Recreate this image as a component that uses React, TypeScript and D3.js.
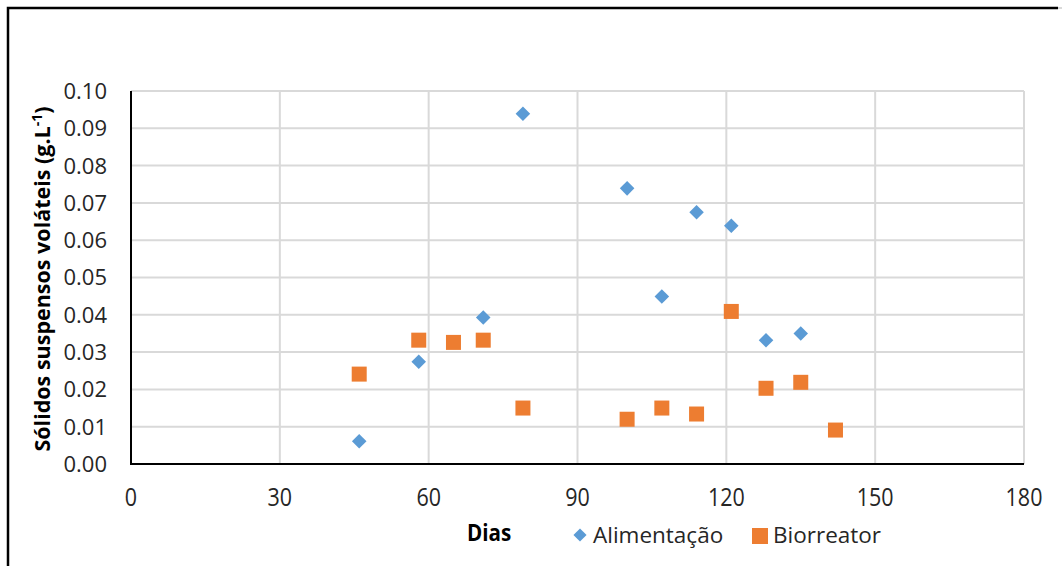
import React, { useRef, useEffect } from 'react';
import * as d3 from 'd3';

// Days and values
const alimDays = [46, 58, 71, 79, 100, 107, 114, 121, 128, 135];
const alimValues = [0.0061, 0.0274, 0.0393, 0.0939, 0.0739, 0.0449, 0.0675, 0.0639, 0.0332, 0.035];
const bioDays = [46, 58, 65, 71, 79, 100, 107, 114, 121, 128, 135, 142];
const bioValues = [0.0241, 0.0332, 0.0326, 0.0332, 0.015, 0.012, 0.015, 0.0134, 0.0409, 0.0203, 0.0219, 0.0091];
const xTicks = [0, 30, 60, 90, 120, 150, 180];
const yTicks = [0, 0.01, 0.02, 0.03, 0.04, 0.05, 0.06, 0.07, 0.08, 0.09, 0.1];

const FONT = '"Open Sans", "Noto Sans", sans-serif';

const App = () => {
  const ref = useRef<SVGSVGElement>(null);

  useEffect(() => {
    if (!ref.current) return;
    const svg = d3.select(ref.current);
    svg.selectAll('*').remove();

    const left = 131, right = 1024, top = 91, bottom = 464;
    const x = d3.scaleLinear().domain([0, 180]).range([left, right]);
    const y = d3.scaleLinear().domain([0, 0.1]).range([bottom, top]);

    // outer frame (left + top edges visible)
    svg.append('path')
      .attr('d', 'M8,570 L8,8 L1058,8')
      .attr('fill', 'none')
      .attr('stroke', '#000')
      .attr('stroke-width', 2.5);
    svg.append('line')
      .attr('x1', 1058).attr('x2', 1062).attr('y1', 8).attr('y2', 8)
      .attr('stroke', '#d9d9d9').attr('stroke-width', 2);

    // gridlines
    const grid = svg.append('g');
    grid.selectAll('line.h')
      .data(yTicks.slice(1))
      .enter().append('line')
      .attr('x1', left).attr('x2', right)
      .attr('y1', d => y(d)).attr('y2', d => y(d))
      .attr('stroke', '#d9d9d9').attr('stroke-width', 2);
    grid.selectAll('line.v')
      .data(xTicks.slice(1))
      .enter().append('line')
      .attr('x1', d => x(d)).attr('x2', d => x(d))
      .attr('y1', top).attr('y2', bottom)
      .attr('stroke', '#d9d9d9').attr('stroke-width', 2);

    // axes lines
    svg.append('line')
      .attr('x1', left).attr('x2', left).attr('y1', top).attr('y2', bottom + 1)
      .attr('stroke', '#000').attr('stroke-width', 2);
    svg.append('line')
      .attr('x1', left).attr('x2', right).attr('y1', bottom).attr('y2', bottom)
      .attr('stroke', '#000').attr('stroke-width', 2);

    // y tick labels
    svg.append('g').selectAll('text')
      .data(yTicks)
      .enter().append('text')
      .attr('x', 107)
      .attr('y', d => y(d))
      .attr('dy', '0.36em')
      .attr('text-anchor', 'end')
      .attr('font-family', FONT)
      .attr('font-size', 22)
      .attr('fill', '#262626')
      .text(d => d.toFixed(2));

    // x tick labels
    svg.append('g').selectAll('text')
      .data(xTicks)
      .enter().append('text')
      .attr('transform', d => `translate(${x(d)},506) scale(0.86,1)`)
      .attr('text-anchor', 'middle')
      .attr('font-family', FONT)
      .attr('font-size', 25)
      .attr('fill', '#262626')
      .text(d => d);

    // y axis title
    const yt = svg.append('text')
      .attr('transform', 'translate(50,279) rotate(-90)')
      .attr('text-anchor', 'middle')
      .attr('font-family', FONT)
      .attr('font-size', 21.5)
      .attr('font-weight', 'bold')
      .attr('fill', '#000');
    yt.append('tspan').text('Sólidos suspensos voláteis (g.L');
    yt.append('tspan').attr('font-size', 14).attr('dy', -8).text('-1');
    yt.append('tspan').attr('dy', 8).text(')');

    // x axis title
    svg.append('text')
      .attr('transform', 'translate(467,541) scale(0.86,1)')
      .attr('font-family', FONT)
      .attr('font-size', 24)
      .attr('font-weight', 'bold')
      .attr('fill', '#000')
      .text('Dias');

    // series
    const diamond = d3.symbol().type(d3.symbolDiamond2).size(135);
    svg.append('g').selectAll('path')
      .data(alimDays.map((d, i) => [d, alimValues[i]]))
      .enter().append('path')
      .attr('d', diamond)
      .attr('transform', d => `translate(${x(d[0])},${y(d[1])})`)
      .attr('fill', '#5b9bd5');

    const sq = 15;
    svg.append('g').selectAll('rect')
      .data(bioDays.map((d, i) => [d, bioValues[i]]))
      .enter().append('rect')
      .attr('x', d => x(d[0]) - sq / 2)
      .attr('y', d => y(d[1]) - sq / 2)
      .attr('width', sq).attr('height', sq)
      .attr('fill', '#ed7d31');

    // legend
    svg.append('path')
      .attr('d', d3.symbol().type(d3.symbolDiamond2).size(110))
      .attr('transform', 'translate(580,535)')
      .attr('fill', '#5b9bd5');
    svg.append('text')
      .attr('x', 593).attr('y', 543)
      .attr('font-family', FONT)
      .attr('font-size', 22.5)
      .attr('fill', '#262626')
      .text('Alimentação');
    svg.append('rect')
      .attr('x', 752).attr('y', 528).attr('width', 16).attr('height', 16)
      .attr('fill', '#ed7d31');
    svg.append('text')
      .attr('x', 773).attr('y', 543)
      .attr('font-family', FONT)
      .attr('font-size', 22.5)
      .attr('fill', '#262626')
      .text('Biorreator');
  }, []);

  return (
    <svg
      ref={ref}
      width={1062}
      height={566}
      style={{ position: 'fixed', left: 0, top: 0, background: '#fff' }}
    />
  );
};

export default App;
